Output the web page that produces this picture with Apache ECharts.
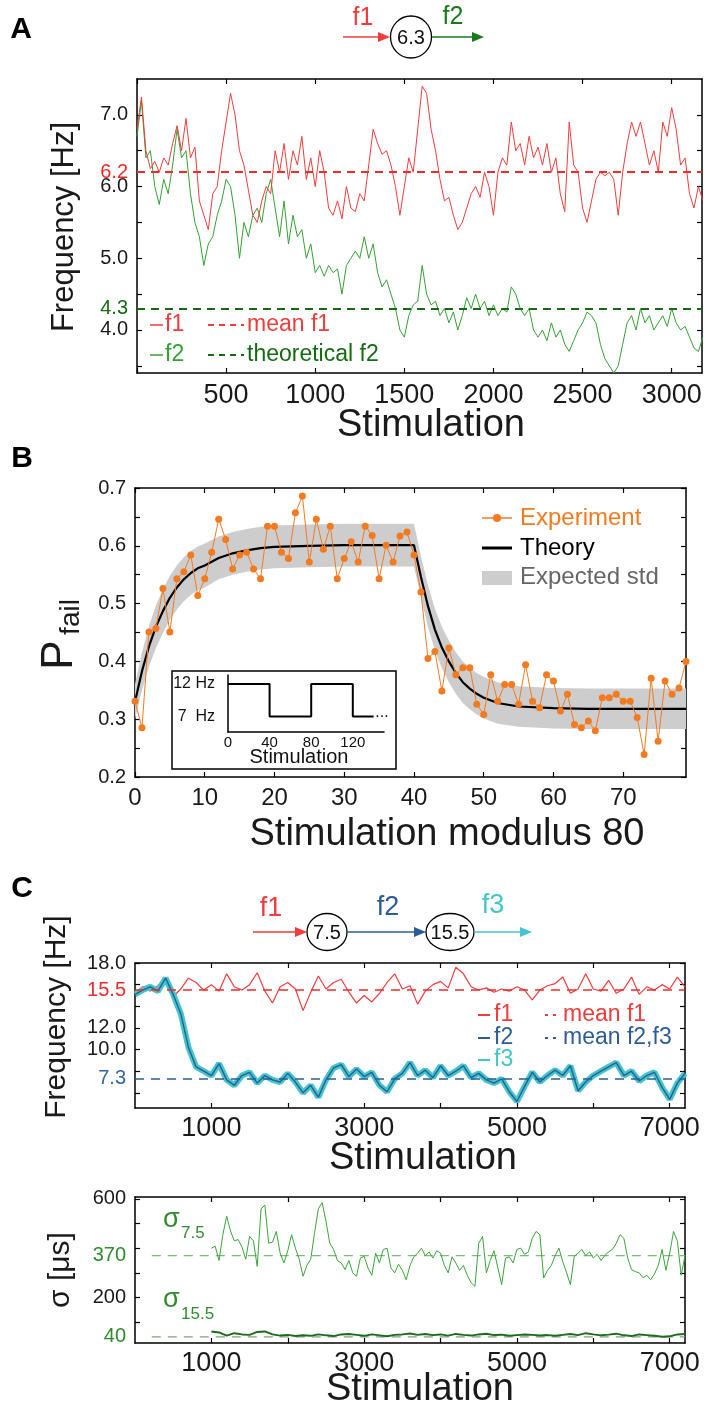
<!DOCTYPE html>
<html><head><meta charset="utf-8">
<script src="https://cdn.jsdelivr.net/npm/echarts@6/dist/echarts.min.js"></script>
<style>html,body{margin:0;padding:0;background:#fff}#c{width:708px;height:1412px}</style>
</head><body><div id="c"></div>
<script>
const FONT = '"Liberation Sans", Arial, Helvetica, sans-serif';

// ---------- Panel A ----------
const A_STEP = 25;
const A_F1 = [6.8,7.25,6.5,6.25,6.35,6.2,6.4,6.3,6.6,6.85,6.5,6.95,6.4,6.55,5.8,5.6,5.4,5.9,6.0,6.5,
  6.9,7.3,7.0,6.5,6.3,5.95,5.6,5.5,5.8,6.0,5.9,6.5,6.2,6.6,6.1,6.5,6.3,6.7,6.1,6.4,
  6.0,6.5,6.2,5.7,5.6,5.8,5.55,6.0,5.7,5.65,5.9,5.8,6.3,6.8,6.6,6.45,6.5,6.3,6.0,5.6,
  6.0,6.4,6.2,6.8,7.4,7.3,6.8,6.5,6.1,5.8,5.85,5.6,5.4,5.5,5.7,5.9,6.0,5.85,6.2,6.0,
  5.6,6.2,6.4,6.3,6.9,6.5,6.6,6.3,6.7,6.4,6.55,6.3,6.6,6.2,6.4,5.9,5.65,6.9,6.3,6.2,
  5.7,5.5,5.8,6.1,6.2,6.15,6.2,6.1,5.6,6.2,6.6,6.9,6.7,6.9,6.6,6.3,6.5,6.2,6.9,6.7,
  7.1,6.8,6.3,6.4,5.9,5.7,6.0,5.8];
const A_F2 = [6.7,7.2,6.4,6.5,6.0,5.75,6.1,5.9,6.3,6.8,6.4,6.5,5.9,5.5,5.3,4.9,5.2,5.3,5.6,5.8,
  6.1,6.0,5.6,5.0,5.5,5.3,5.6,5.7,5.5,5.9,6.1,5.7,5.3,5.8,5.2,5.6,5.3,5.4,5.0,5.2,
  4.8,4.9,4.75,4.9,4.8,4.85,4.5,4.9,5.0,5.1,5.0,5.3,5.0,5.2,4.8,4.6,4.7,4.5,4.3,4.0,
  3.9,4.2,4.35,4.4,4.9,4.5,4.35,4.4,4.2,4.3,4.1,4.25,4.0,4.2,4.45,4.3,4.5,4.3,4.4,4.2,
  4.35,4.2,4.3,4.25,4.6,4.5,4.3,4.2,4.3,4.0,3.9,4.0,3.85,4.1,3.9,4.0,3.8,3.7,3.85,4.0,
  4.1,4.25,4.2,4.1,3.8,3.6,3.5,3.4,3.5,3.8,4.1,4.2,4.0,4.3,4.1,4.2,4.0,4.1,4.2,4.05,
  4.3,4.1,4.0,4.05,3.9,3.75,3.7,3.9];
const A_MEAN_F1 = 6.2;
const A_THEO_F2 = 4.3;
const A_X_TICKS = [0,500,1000,1500,2000,2500,3000];
const A_X_LABELS = [500,1000,1500,2000,2500,3000];
const A_Y_TICKS = [3.5,4,4.5,5,5.5,6,6.5,7];
const A_Y_LABELS = [4,4.3,5,6,6.2,7];

// ---------- Panel B ----------
const B_EXP = [0.331,0.285,0.451,0.457,0.526,0.451,0.543,0.555,0.584,0.514,
  0.543,0.589,0.646,0.611,0.560,0.584,0.589,0.560,0.543,0.634,
  0.634,0.589,0.578,0.657,0.686,0.572,0.646,0.594,0.634,0.543,
  0.578,0.607,0.572,0.634,0.618,0.543,0.601,0.572,0.617,0.624,
  0.584,0.520,0.405,0.417,0.349,0.423,0.377,0.389,0.389,0.326,
  0.308,0.377,0.331,0.360,0.360,0.326,0.394,0.331,0.320,0.377,
  0.366,0.314,0.343,0.291,0.285,0.297,0.280,0.337,0.337,0.343,
  0.331,0.331,0.303,0.239,0.371,0.262,0.366,0.343,0.354,0.400];
const B_TH_X = [0,1,2,3,4,5,6,7,8,9,10,12,14,16,18,20,25,30,35,40,41,42,43,44,45,46,47,48,49,50,52,55,60,65,70,79];
const B_TH   = [0.33,0.383,0.426,0.46,0.487,0.51,0.528,0.542,0.553,0.561,0.566,0.579,0.587,0.592,0.596,0.598,0.6,0.601,0.601,0.601,
  0.546,0.496,0.455,0.424,0.4,0.38,0.364,0.353,0.344,0.337,0.328,0.322,0.319,0.318,0.318,0.318];
const B_STD  = [0.03,0.033,0.035,0.037,0.038,0.038,0.038,0.038,0.038,0.038,0.038,0.037,0.037,0.037,0.037,0.037,0.037,0.037,0.037,0.037,
  0.036,0.036,0.036,0.036,0.036,0.036,0.036,0.036,0.036,0.036,0.036,0.035,0.035,0.035,0.035,0.035];
const B_X_TICKS = [0,10,20,30,40,50,60,70];
const B_Y_TICKS = [0.2,0.25,0.3,0.35,0.4,0.45,0.5,0.55,0.6,0.65,0.7];
const B_Y_LABELS = [0.2,0.3,0.4,0.5,0.6,0.7];
const INSET_X = [0,40,40,80,80,120,120,140];
const INSET_Y = [12,12,7,7,12,12,7,7];
const INSET_X_LABELS = [0,40,80,120];
const INSET_Y_LABELS = [7,12];

// ---------- Panel C ----------
const C_STEP = 100;
const C_F1 = [15.2,15.8,15.4,15.9,16.6,14.9,15.6,16.6,16.2,15.5,
  16.0,15.4,17.0,15.8,15.5,16.0,17.1,15.4,14.3,15.8,
  16.2,15.6,13.6,15.3,16.8,15.6,16.2,16.5,15.3,14.3,
  15.0,14.4,15.2,16.2,17.0,15.6,15.9,14.2,15.4,16.0,
  16.3,15.7,17.6,17.0,15.8,15.5,15.7,15.3,15.6,15.4,
  15.8,15.5,14.6,15.5,15.9,16.1,16.7,15.2,15.6,17.0,
  15.6,15.4,16.4,15.2,15.6,16.7,15.1,15.8,15.5,16.0,
  15.6,16.7,15.8];
const C_F2 = [15.1,15.5,15.8,15.4,16.6,15.1,13.3,10.2,8.4,8.0,
  7.6,8.7,7.2,6.7,7.6,7.9,6.9,7.6,7.2,7.0,
  7.8,7.0,6.0,6.7,5.6,7.2,8.3,8.6,7.5,8.2,
  7.5,7.9,6.7,6.1,7.3,7.8,8.8,7.6,8.1,7.4,
  8.5,7.6,8.0,8.5,7.4,7.8,7.2,6.9,7.3,6.1,
  5.2,6.6,7.9,7.0,7.6,8.1,7.6,8.5,6.2,7.0,
  7.6,8.0,8.4,8.8,7.6,8.0,7.1,7.6,7.9,6.5,
  5.4,6.9,7.8];
const C_F3 = [15.1,15.5,15.8,15.4,16.6,15.1,13.3,10.2,8.4,8.0,
  7.6,8.7,7.2,6.7,7.6,7.9,6.9,7.6,7.2,7.0,
  7.8,7.0,6.0,6.7,5.6,7.2,8.3,8.6,7.5,8.2,
  7.5,7.9,6.7,6.1,7.3,7.8,8.8,7.6,8.1,7.4,
  8.5,7.6,8.0,8.5,7.4,7.8,7.2,6.9,7.3,6.1,
  5.2,6.6,7.9,7.0,7.6,8.1,7.6,8.5,6.2,7.0,
  7.6,8.0,8.4,8.8,7.6,8.0,7.1,7.6,7.9,6.5,
  5.4,6.9,7.8];
const C_MEAN_F1 = 15.5;
const C_MEAN_F23 = 7.3;
const C_X_TICKS = [1000,2000,3000,4000,5000,6000,7000];
const C_X_LABELS = [1000,3000,5000,7000];
const C_Y_TICKS = [6,8,10,12,14,16,18];
const C_Y_LABELS = [7.3,10,12,15.5,18];

// ---------- Sigma panel ----------
const S_START = 1000;
const S75_STEP = 50;
const S155_STEP = 100;
const S75 = [400,408,350,455,530,470,430,435,405,355,
  448,430,326,560,575,420,425,468,380,340,
  390,455,400,355,286,330,355,460,560,585,
  510,420,395,350,340,313,350,300,286,360,
  367,320,290,380,340,395,400,320,300,335,
  310,272,330,365,380,400,370,385,360,390,
  380,330,300,365,340,310,330,290,260,245,
  420,448,300,350,390,320,252,360,365,340,
  395,400,375,385,440,468,455,279,310,330,
  370,400,345,300,252,367,380,395,370,385,
  360,375,350,370,385,395,420,455,440,360,
  313,305,300,280,290,272,295,330,395,310,
  380,468,430,290,370];
const S155 = [62,58,45,55,50,48,60,62,50,45,48,43,46,44,50,46,43,50,52,48,
  44,50,46,42,48,50,54,48,52,47,50,45,52,48,45,50,53,47,49,44,
  47,50,48,45,47,44,48,52,47,55,50,46,49,53,46,43,50,47,44,40,
  42,50,52];
const S_MEAN75 = 370;
const S_MEAN155 = 40;
const S_MEAN_X = [220,7200];
const S_Y_TICKS = [100,200,300,400,500,600];
const S_Y_LABELS = [40,200,370,600];

// ---------- helpers ----------
const RED = '#f03c3c', GREEN = '#34a034', DKGREEN = '#126c12';
const ORANGE = '#f47a20', BLUE = '#2c5c98', CYAN = '#42c6cb', SGREEN = '#2e8b2e';
const AXL = {color:'#000', width:1.5};
const TK = {color:'#000', width:1.2};
const plain = v => String(v);

function xPair(grid, min, max, ticks, labels, fs, margin) {
  const base = {type:'value', gridIndex:grid, min:min, max:max, splitLine:{show:false},
    axisLine:{onZero:false, lineStyle:AXL},
    axisTick:{inside:true, length:5, customValues:ticks, lineStyle:TK}};
  const lab = {customValues:labels, fontSize:fs, color:'#1a1a1a', margin:margin, fontFamily:FONT, formatter:plain};
  return [
    Object.assign({}, base, {position:'bottom', axisLabel:lab}),
    Object.assign({}, base, {position:'top', axisLabel:{show:false}})
  ];
}
function yPair(grid, min, max, ticks, labels, fs, fmt, rich) {
  const base = {type:'value', gridIndex:grid, min:min, max:max, splitLine:{show:false},
    axisLine:{onZero:false, lineStyle:AXL},
    axisTick:{inside:true, length:5, customValues:ticks, lineStyle:TK}};
  const lab = {customValues:labels, fontSize:fs, color:'#1a1a1a', margin:9, fontFamily:FONT, formatter:fmt};
  if (rich) lab.rich = rich;
  return [
    Object.assign({}, base, {position:'left', axisLabel:lab}),
    Object.assign({}, base, {position:'right', axisLabel:{show:false}})
  ];
}
function T(text, x, y, fs, color, align, extra) {
  return Object.assign({type:'text', x:x, y:y, z:30,
    style:{text:text, fontSize:fs, fill:color, fontFamily:FONT, align:align||'center', verticalAlign:'middle'}}, extra||{});
}
function TB(text, x, y) {
  return {type:'text', x:x, y:y, z:30,
    style:{text:text, fontSize:30, fontWeight:'bold', fill:'#000', fontFamily:FONT, align:'center', verticalAlign:'middle'}};
}
function L(x1, y1, x2, y2, color, w, dash) {
  const st = {stroke:color, lineWidth:w};
  if (dash) st.lineDash = dash;
  return {type:'line', z:30, shape:{x1:x1, y1:y1, x2:x2, y2:y2}, style:st};
}
function arrow(x1, x2, y, color) {
  return [L(x1, y, x2 - 11, y, color, 1.6),
    {type:'polygon', z:30, shape:{points:[[x2, y], [x2 - 12, y - 5], [x2 - 12, y + 5]]}, style:{fill:color}}];
}
function node(cx, cy, rx, ry, label) {
  return [{type:'ellipse', z:30, shape:{cx:cx, cy:cy, rx:rx, ry:ry}, style:{fill:'#fff', stroke:'#000', lineWidth:1.3}},
    T(label, cx, cy + 1, 20, '#111')];
}
const fix1 = v => v.toFixed(1);

// ---------- axes ----------
const ax = {
  A: xPair(0, 0, 3170, A_X_TICKS, A_X_LABELS, 27, 9),
  B: xPair(1, 0, 79, B_X_TICKS, B_X_TICKS, 24, 9),
  C: xPair(3, 0, 7200, C_X_TICKS, C_X_LABELS, 27, 7),
  S: xPair(4, 0, 7200, C_X_TICKS, C_X_LABELS, 27, 7)
};
const ay = {
  A: yPair(0, 3.4, 7.5, A_Y_TICKS, A_Y_LABELS, 20,
    v => v === A_MEAN_F1 ? '{r|' + fix1(v) + '}' : v === A_THEO_F2 ? '{g|' + fix1(v) + '}' : fix1(v),
    {r:{color:'#ee2a2a', fontSize:20, fontFamily:FONT}, g:{color:DKGREEN, fontSize:20, fontFamily:FONT}}),
  B: yPair(1, 0.2, 0.7, B_Y_TICKS, B_Y_LABELS, 20, fix1),
  C: yPair(3, 4.6, 18, C_Y_TICKS, C_Y_LABELS, 20,
    v => v === C_MEAN_F1 ? '{r|' + fix1(v) + '}' : v === C_MEAN_F23 ? '{b|' + fix1(v) + '}' : fix1(v),
    {r:{color:'#ee2a2a', fontSize:20, fontFamily:FONT}, b:{color:'#3465a4', fontSize:20, fontFamily:FONT}}),
  S: yPair(4, 15, 608, S_Y_TICKS, S_Y_LABELS, 20,
    v => (v === S_MEAN75 || v === S_MEAN155) ? '{g|' + v + '}' : String(v),
    {g:{color:SGREEN, fontSize:20, fontFamily:FONT}})
};
const insetX = {type:'value', gridIndex:2, min:0, max:150, position:'bottom', z:20,
  axisLine:{onZero:false, lineStyle:{color:'#000', width:1.5}}, axisTick:{show:false}, splitLine:{show:false},
  axisLabel:{customValues:INSET_X_LABELS, fontSize:15, margin:3, color:'#111', fontFamily:FONT, formatter:plain}};
const insetY = {type:'value', gridIndex:2, min:4.6, max:13.4, position:'left', z:20,
  axisLine:{onZero:false, lineStyle:{color:'#000', width:1.5}}, axisTick:{show:false}, splitLine:{show:false},
  axisLabel:{customValues:INSET_Y_LABELS, fontSize:16, margin:13, color:'#111', fontFamily:FONT,
    formatter: v => (v === 12 ? '12 Hz' : '7  Hz')}};

// xAxis indices: 0,1 A | 2,3 B | 4 inset | 5,6 C | 7,8 S
const xAxes = [ax.A[0], ax.A[1], ax.B[0], ax.B[1], insetX, ax.C[0], ax.C[1], ax.S[0], ax.S[1]];
const yAxes = [ay.A[0], ay.A[1], ay.B[0], ay.B[1], insetY, ay.C[0], ay.C[1], ay.S[0], ay.S[1]];

function ml(val, color, w, dash) {
  return {silent:true, symbol:'none', label:{show:false}, animation:false,
    lineStyle:{color:color, width:w, type:dash}, data:[{yAxis:val}]};
}
const noSym = {symbol:'none', showSymbol:false};

const series = [
  // A
  Object.assign({type:'line', xAxisIndex:0, yAxisIndex:0, z:2,
    data:A_F2.map((v, i) => [i * A_STEP, v]), lineStyle:{color:GREEN, width:1},
    markLine:ml(A_THEO_F2, DKGREEN, 2, [8, 6])}, noSym),
  Object.assign({type:'line', xAxisIndex:0, yAxisIndex:0, z:3,
    data:A_F1.map((v, i) => [i * A_STEP, v]), lineStyle:{color:RED, width:1},
    markLine:ml(A_MEAN_F1, '#ee2b2b', 2, [8, 6])}, noSym),
  // B expected std band (polygon through upper then lower edge)
  {type:'custom', xAxisIndex:2, yAxisIndex:2, z:1, silent:true,
    data:B_TH_X.map((x, i) => [x, B_TH[i]]),
    renderItem:function (params, api) {
      if (params.dataIndex !== 0) return null;
      const up = B_TH_X.map((x, i) => api.coord([x, B_TH[i] + B_STD[i]]));
      const lo = B_TH_X.map((x, i) => api.coord([x, B_TH[i] - B_STD[i]])).reverse();
      return {type:'polygon', shape:{points:up.concat(lo)}, style:{fill:'#cdcdcd'}};
    }},
  Object.assign({type:'line', xAxisIndex:2, yAxisIndex:2, z:3,
    data:B_TH_X.map((x, i) => [x, B_TH[i]]), lineStyle:{color:'#000', width:2.2}}, noSym),
  {type:'line', xAxisIndex:2, yAxisIndex:2, z:4, data:B_EXP.map((v, i) => [i, v]),
    symbol:'circle', symbolSize:7, showSymbol:true, itemStyle:{color:ORANGE},
    lineStyle:{color:ORANGE, width:1}},
  // inset
  Object.assign({type:'line', xAxisIndex:4, yAxisIndex:4, z:20,
    data:INSET_X.map((x, i) => [x, INSET_Y[i]]), lineStyle:{color:'#000', width:2}}, noSym),
  // C
  Object.assign({type:'line', xAxisIndex:5, yAxisIndex:5, z:2,
    data:C_F1.map((v, i) => [i * C_STEP, v]), lineStyle:{color:RED, width:1.2},
    markLine:ml(C_MEAN_F1, '#ee2b2b', 1.5, [9, 7])}, noSym),
  Object.assign({type:'line', xAxisIndex:5, yAxisIndex:5, z:3,
    data:C_F3.map((v, i) => [i * C_STEP, v]), lineStyle:{color:CYAN, width:6}}, noSym),
  Object.assign({type:'line', xAxisIndex:5, yAxisIndex:5, z:4,
    data:C_F2.map((v, i) => [i * C_STEP, v]), lineStyle:{color:BLUE, width:1.4},
    markLine:ml(C_MEAN_F23, BLUE, 1.5, [9, 7])}, noSym),
  // sigma
  Object.assign({type:'line', xAxisIndex:7, yAxisIndex:7, z:1,
    data:S_MEAN_X.map(x => [x, S_MEAN75]), lineStyle:{color:'#7dba7d', width:1.3, type:[9, 7]}}, noSym),
  Object.assign({type:'line', xAxisIndex:7, yAxisIndex:7, z:1,
    data:S_MEAN_X.map(x => [x, S_MEAN155]), lineStyle:{color:'#7f9f7f', width:1.3, type:[9, 7]}}, noSym),
  Object.assign({type:'line', xAxisIndex:7, yAxisIndex:7, z:3,
    data:S75.map((v, i) => [S_START + i * S75_STEP, v]), lineStyle:{color:'#3aa53a', width:1}}, noSym),
  Object.assign({type:'line', xAxisIndex:7, yAxisIndex:7, z:3,
    data:S155.map((v, i) => [S_START + i * S155_STEP, v]), lineStyle:{color:'#1d6b1d', width:2}}, noSym)
];

const G = [];
function add(a) { if (Array.isArray(a)) a.forEach(e => G.push(e)); else G.push(a); }
// panel letters
add(TB('A', 21, 30)); add(TB('B', 22, 459)); add(TB('C', 22, 889));
// diagram A
add(T('f1', 363, 18, 25, RED));
add(arrow(343, 390, 37, RED));
add(node(411, 37, 20.5, 21, '6.3'));
add(arrow(432, 484, 37, '#1a7a1a'));
add(T('f2', 453, 17, 25, '#1a7a1a'));
// diagram C
add(T('f1', 271, 909, 27, RED));
add(arrow(253, 307, 932, RED));
add(node(327, 932, 20, 18.5, '7.5'));
add(arrow(347, 426, 932, BLUE));
add(T('f2', 388, 908, 27, BLUE));
add(node(450, 932, 24, 18.5, '15.5'));
add(arrow(474, 532, 932, CYAN));
add(T('f3', 493, 906, 27, CYAN));
// axis titles
add(T('Stimulation', 431, 426, 38, '#1a1a1a'));
add(T('Frequency [Hz]', 64, 227, 31, '#1a1a1a', 'center', {rotation:Math.PI / 2}));
add(T('Stimulation modulus 80', 447, 835, 38, '#1a1a1a'));
add(T('P', 60, 655, 44, '#1a1a1a', 'center', {rotation:Math.PI / 2}));
add(T('fail', 71, 617, 28, '#1a1a1a', 'center', {rotation:Math.PI / 2}));
add(T('Stimulation', 423, 1159, 38, '#1a1a1a'));
add(T('Frequency [Hz]', 57, 1017, 30, '#1a1a1a', 'center', {rotation:Math.PI / 2}));
add(T('Stimulation', 420, 1390, 38, '#1a1a1a'));
add(T('\u03c3 [\u03bcs]', 61, 1270, 30, '#1a1a1a', 'center', {rotation:Math.PI / 2}));
// legend A
add(L(150, 325, 163, 325, RED, 1.5)); add(T('f1', 165, 325, 23, RED, 'left'));
add(L(208, 325, 244, 325, RED, 2, [6, 5])); add(T('mean f1', 247, 325, 23, RED, 'left'));
add(L(150, 355, 163, 355, GREEN, 1.5)); add(T('f2', 165, 355, 23, GREEN, 'left'));
add(L(208, 355, 244, 355, DKGREEN, 2, [6, 5])); add(T('theoretical f2', 247, 355, 23, DKGREEN, 'left'));
// legend B
add(L(482, 518, 512, 518, ORANGE, 1.5));
add({type:'circle', z:30, shape:{cx:497, cy:518, r:4}, style:{fill:ORANGE}});
add(T('Experiment', 520, 518, 24, ORANGE, 'left'));
add(L(482, 548, 512, 548, '#000', 3)); add(T('Theory', 520, 548, 24, '#000', 'left'));
add({type:'rect', z:30, shape:{x:482, y:571, width:30, height:14}, style:{fill:'#cdcdcd'}});
add(T('Expected std', 520, 577, 24, '#666', 'left'));
// inset box
add({type:'rect', z:10, shape:{x:172, y:671, width:224, height:98}, style:{fill:'#fff', stroke:'#000', lineWidth:1.5}});
add(T('Stimulation', 299, 757, 20, '#111', 'center', {z:31}));
add(T('...', 382, 713, 16, '#111', 'center', {z:31}));
// legend C
add(L(478, 1015, 490, 1015, RED, 2)); add(T('f1', 494, 1015, 23, RED, 'left'));
add(L(545, 1015, 560, 1015, RED, 2, [3, 5])); add(T('mean f1', 563, 1015, 23, RED, 'left'));
add(L(478, 1038, 490, 1038, BLUE, 2)); add(T('f2', 494, 1038, 23, BLUE, 'left'));
add(L(545, 1038, 560, 1038, BLUE, 2, [3, 5])); add(T('mean f2,f3', 563, 1038, 23, BLUE, 'left'));
add(L(478, 1060, 490, 1060, CYAN, 2)); add(T('f3', 494, 1060, 23, CYAN, 'left'));
// sigma labels
add(T('\u03c3', 163, 1220, 27, SGREEN, 'left')); add(T('7.5', 181, 1233, 17, SGREEN, 'left'));
add(T('\u03c3', 163, 1300, 27, SGREEN, 'left')); add(T('15.5', 181, 1314, 17, SGREEN, 'left'));

const option = {
  animation:false,
  backgroundColor:'#fff',
  textStyle:{fontFamily:FONT},
  grid:[
    {left:137, top:79, width:565, height:294},
    {left:135, top:488, width:551, height:289},
    {left:228, top:675, width:156, height:57},
    {left:135, top:963, width:550, height:145},
    {left:135, top:1197, width:550, height:146}
  ],
  xAxis:xAxes,
  yAxis:yAxes,
  series:series,
  graphic:{elements:G}
};
const chart = echarts.init(document.getElementById('c'), null, {renderer:'canvas'});
chart.setOption(option);
</script></body></html>
